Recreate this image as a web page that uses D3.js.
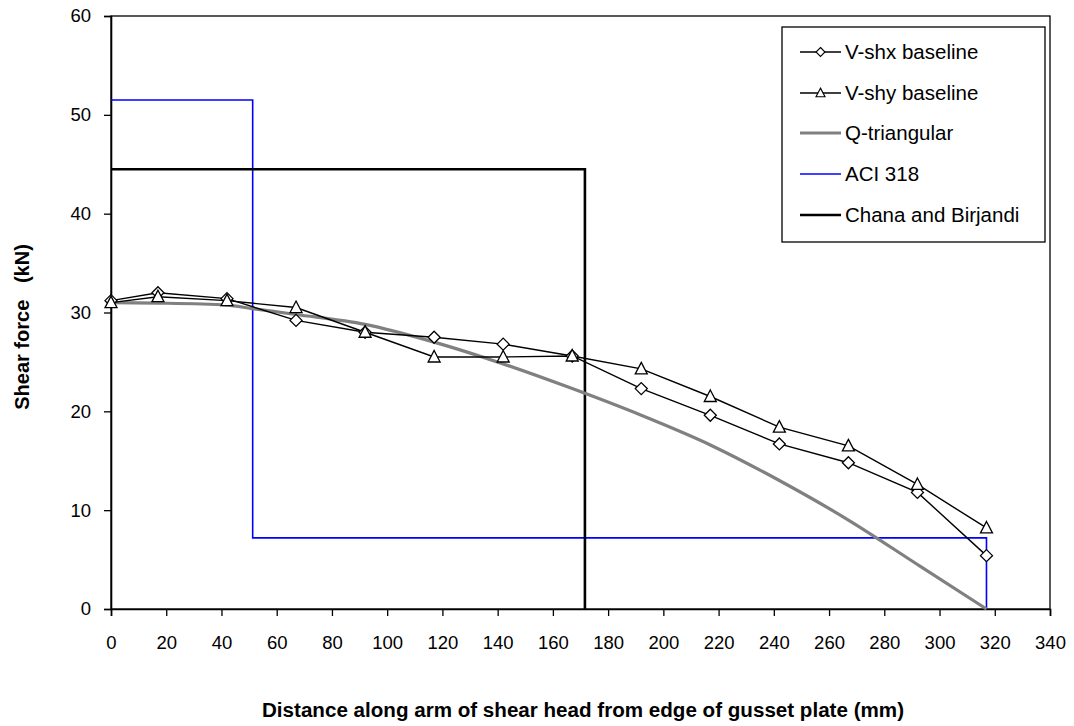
<!DOCTYPE html>
<html>
<head>
<meta charset="utf-8">
<script src="https://cdn.jsdelivr.net/npm/d3@7"></script>
<style>
  body { margin: 0; background: #fff; }
  svg { display: block; }
  text { font-family: "Liberation Sans", Arial, sans-serif; fill: #000; }
</style>
</head>
<body>
<svg id="chart" width="1074" height="726"></svg>
<script>
// ---- data ----
const xTicks = [0,20,40,60,80,100,120,140,160,180,200,220,240,260,280,300,320,340];
const yTicks = [0,10,20,30,40,50,60];

const shxX = [0,17,42,67,92,117,142,167,192,217,242,267,292,317];
const shxY = [31.2,32.0,31.4,29.2,28.0,27.5,26.8,25.6,22.3,19.6,16.7,14.8,11.8,5.4];

const shyX = [0,17,42,67,92,117,142,167,192,217,242,267,292,317];
const shyY = [31.0,31.6,31.2,30.5,28.0,25.5,25.5,25.6,24.3,21.5,18.4,16.5,12.6,8.2];

const qX = [0,17,42,51,67,92,117,142,167,192,217,242,267,292,317];
const qY = [31.0,30.95,30.75,30.4,29.8,28.8,27.0,24.8,22.3,19.6,16.6,13.0,9.0,4.5,0];

const aciX = [0,51.3,51.3,317,317];
const aciY = [51.5,51.5,7.2,7.2,0];

const chanaX = [0,171.6,171.6];
const chanaY = [44.5,44.5,0];

const legendLabels = ["V-shx baseline","V-shy baseline","Q-triangular","ACI 318","Chana and Birjandi"];

// ---- layout ----
const svg = d3.select("#chart");
const x = d3.scaleLinear().domain([0,340]).range([111,1050]);
const y = d3.scaleLinear().domain([0,60]).range([609,16]);

// plot border
svg.append("rect").attr("x",x(0)).attr("y",y(60)).attr("width",x(340)-x(0)).attr("height",y(0)-y(60))
  .attr("fill","none").attr("stroke","#000").attr("stroke-width",1.3);

// axes
const xAxis = svg.append("g").attr("transform",`translate(0,${y(0)})`)
  .call(d3.axisBottom(x).tickValues(xTicks).tickSize(7).tickPadding(20).tickFormat(d3.format("d")));
const yAxis = svg.append("g").attr("transform",`translate(${x(0)},0)`)
  .call(d3.axisLeft(y).tickValues(yTicks).tickSize(7).tickPadding(13).tickFormat(d3.format("d")));
[xAxis,yAxis].forEach(g=>{
  g.attr("font-size",null).attr("font-family",null);
  g.select(".domain").attr("stroke","#000").attr("stroke-width",1.6);
  g.selectAll(".tick line").attr("stroke","#000").attr("stroke-width",1.3);
  g.selectAll("text").style("font-size","18.5px").style("font-family","Liberation Sans, Arial, sans-serif");
});

// axis titles
svg.append("text").attr("x",583).attr("y",717).attr("text-anchor","middle")
  .style("font-size","20px").style("font-weight","bold")
  .attr("textLength",642).attr("lengthAdjust","spacingAndGlyphs")
  .text("Distance along arm of shear head from edge of gusset plate (mm)");
svg.append("text").attr("transform","translate(29,327) rotate(-90)").attr("text-anchor","middle")
  .style("font-size","20px").style("font-weight","bold").attr("xml:space","preserve")
  .text("Shear force   (kN)");

const zip = (xs,ys)=>xs.map((v,i)=>[v,ys[i]]);
const line = d3.line().x(d=>x(d[0])).y(d=>y(d[1]));
const smooth = d3.line().x(d=>x(d[0])).y(d=>y(d[1])).curve(d3.curveMonotoneX);

// ACI 318
svg.append("path").attr("d",line(zip(aciX,aciY))).attr("fill","none").attr("stroke","#0000ff").attr("stroke-width",1.6);
// Chana
svg.append("path").attr("d",line(zip(chanaX,chanaY))).attr("fill","none").attr("stroke","#000").attr("stroke-width",2.6);
// Q-triangular
svg.append("path").attr("d",smooth(zip(qX,qY))).attr("fill","none").attr("stroke","#808080").attr("stroke-width",3.2);

// V-shx
svg.append("path").attr("d",line(zip(shxX,shxY))).attr("fill","none").attr("stroke","#000").attr("stroke-width",1.4);
// V-shy
svg.append("path").attr("d",line(zip(shyX,shyY))).attr("fill","none").attr("stroke","#000").attr("stroke-width",1.4);

const diamond = "M0,-6L6,0L0,6L-6,0Z";
const triangle = "M0,-6.5L6,5L-6,5Z";
svg.append("g").selectAll("path").data(zip(shxX,shxY)).join("path")
  .attr("d",diamond).attr("transform",d=>`translate(${x(d[0])},${y(d[1])})`)
  .attr("fill","#fff").attr("stroke","#000").attr("stroke-width",1.3);
svg.append("g").selectAll("path").data(zip(shyX,shyY)).join("path")
  .attr("d",triangle).attr("transform",d=>`translate(${x(d[0])},${y(d[1])})`)
  .attr("fill","#fff").attr("stroke","#000").attr("stroke-width",1.3);

// legend
const lg = svg.append("g");
lg.append("rect").attr("x",782).attr("y",27).attr("width",263).attr("height",215)
  .attr("fill","#fff").attr("stroke","#000").attr("stroke-width",1.3);
const ly = [52,93,133,174,215];
const styles = [
  {stroke:"#000",w:1.4,marker:diamond},
  {stroke:"#000",w:1.4,marker:triangle},
  {stroke:"#808080",w:3.2},
  {stroke:"#0000ff",w:1.6},
  {stroke:"#000",w:2.6}
];
legendLabels.forEach((lab,i)=>{
  const s = styles[i];
  lg.append("line").attr("x1",800).attr("x2",841).attr("y1",ly[i]).attr("y2",ly[i])
    .attr("stroke",s.stroke).attr("stroke-width",s.w);
  if (s.marker) {
    lg.append("path").attr("d",s.marker).attr("transform",`translate(820.5,${ly[i]}) scale(0.75)`)
      .attr("fill","#fff").attr("stroke","#000").attr("stroke-width",1.5);
  }
  lg.append("text").attr("x",845).attr("y",ly[i]).attr("dy","0.35em")
    .style("font-size","20.5px").text(lab);
});
</script>
</body>
</html>
